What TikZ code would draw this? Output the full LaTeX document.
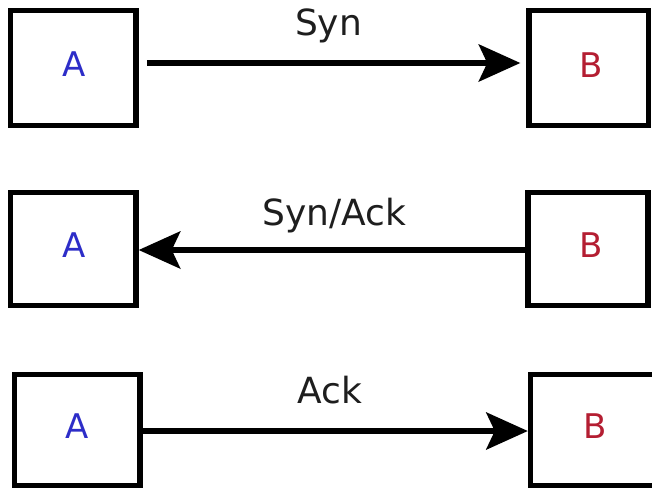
\documentclass[tikz,border=0pt]{standalone}
\usepackage{fontspec}
\setmainfont{DejaVu Sans}
\usetikzlibrary{arrows.meta}
\definecolor{acol}{RGB}{45,45,200}
\definecolor{bcol}{RGB}{180,30,50}
\definecolor{tcol}{RGB}{30,30,30}
\tikzset{
  box/.style={draw=black, line width=5.5pt, inner sep=0pt, fill=none},
  letA/.style={text=acol, font=\fontsize{34}{34}\selectfont, inner sep=0pt},
  letB/.style={text=bcol, font=\fontsize{34}{34}\selectfont, inner sep=0pt},
  msg/.style={text=tcol, font=\fontsize{36}{36}\selectfont, inner sep=0pt, anchor=base},
  arr/.style={line width=5.5pt, -{Stealth[length=42pt, width=38pt, inset=9pt, line width=0pt]}},
}
\begin{document}
\begin{tikzpicture}[x=1pt, y=-1pt]
\useasboundingbox[fill=white] (0,0) rectangle (652,488);
% row 1
\node[box, minimum width=125.5pt, minimum height=115pt] (A1) at (73.25,68) {};
\node[box, minimum width=119.5pt, minimum height=115pt] (B1) at (588.75,68) {};
\node[letA] (tA1) at (74,64.5) {A};
\node[letB] (tB1) at (591,65) {B};
\node[msg] (m1) at (328.5,35) {Syn};
\draw[arr, shorten <=8pt, shorten >=6pt] ([yshift=5pt]A1.east) -- ([yshift=5pt]B1.west);
% row 2
\node[box, minimum width=125.5pt, minimum height=113pt] (A2) at (73.25,249) {};
\node[box, minimum width=120pt, minimum height=113pt] (B2) at (588,249) {};
\node[letA] (tA2) at (74,245) {A};
\node[letB] (tB2) at (591.5,245) {B};
\node[msg] (m2) at (334.5,225) {Syn/Ack};
\draw[arr] ([yshift=-1pt]B2.west) -- ([yshift=-1pt]A2.east);
% row 3
\node[box, minimum width=125.5pt, minimum height=111pt] (A3) at (77.25,430) {};
\node[box, minimum width=125pt, minimum height=111pt] (B3) at (593,430) {};
\node[letA] (tA3) at (77.5,426.5) {A};
\node[letB] (tB3) at (595,426.5) {B};
\node[msg] (m3) at (329.5,403) {Ack};
\draw[arr] ([yshift=-1pt]A3.east) -- ([yshift=-1pt]B3.west);
\end{tikzpicture}
\end{document}
